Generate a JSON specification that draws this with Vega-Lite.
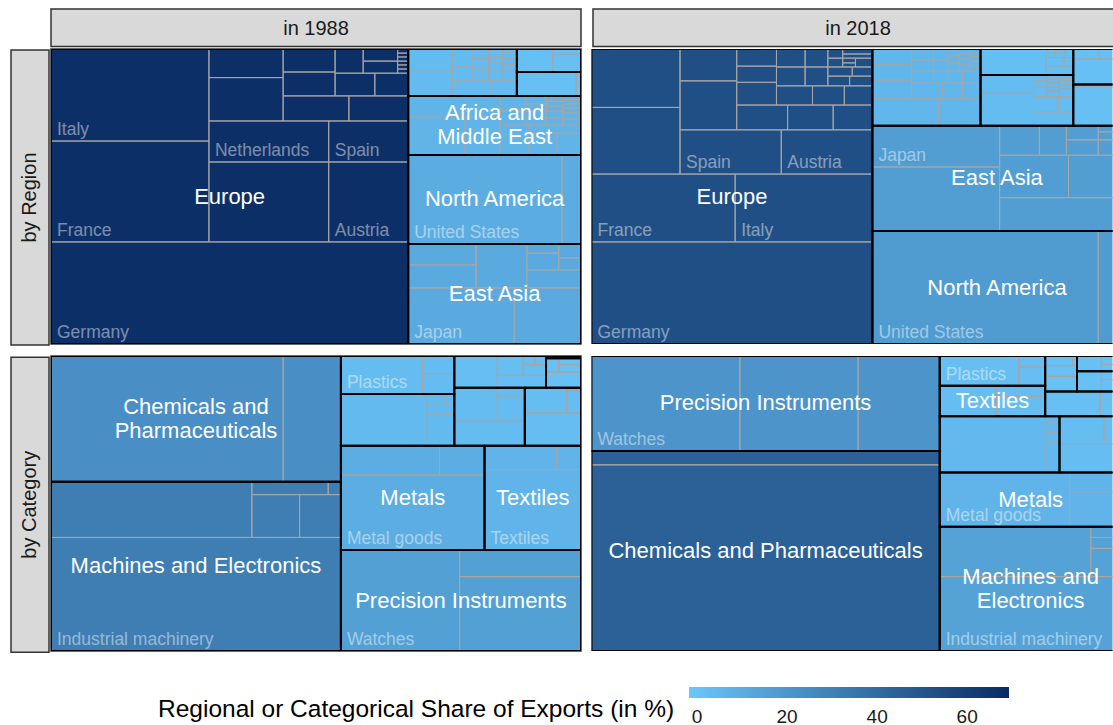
{
"$schema":"https://vega.github.io/schema/vega-lite/v6.json",
"padding":{"left":10,"top":8,"right":0,"bottom":0},
"config":{"font":"Liberation Sans","view":{"stroke":null}},
"datasets":{
"groups":[
{"p":"TL","n":"Europe","x0":0,"x1":67.4,"y0":0,"y1":100,"share":67.4,"label":"Europe"},
{"p":"TL","n":"Other region 1","x0":67.4,"x1":87.9,"y0":0,"y1":15.9,"share":3.3},
{"p":"TL","n":"Other region 2","x0":87.9,"x1":100,"y0":0,"y1":7.8,"share":0.9},
{"p":"TL","n":"Other region 3","x0":87.9,"x1":100,"y0":7.8,"y1":15.9,"share":1.0},
{"p":"TL","n":"Africa and Middle East","x0":67.4,"x1":100,"y0":15.9,"y1":35.9,"share":6.5,"label":"Africa and\nMiddle East"},
{"p":"TL","n":"North America","x0":67.4,"x1":100,"y0":35.9,"y1":66.1,"share":9.8,"label":"North America"},
{"p":"TL","n":"East Asia","x0":67.4,"x1":100,"y0":66.1,"y1":100,"share":11.0,"label":"East Asia"},
{"p":"TR","n":"Europe","x0":0,"x1":53.0,"y0":0,"y1":100,"share":53.0,"label":"Europe"},
{"p":"TR","n":"Other region 1","x0":53.0,"x1":73.4,"y0":0,"y1":26.0,"share":5.3},
{"p":"TR","n":"Other region 2","x0":73.4,"x1":90.9,"y0":0,"y1":8.8,"share":1.5},
{"p":"TR","n":"Other region 3","x0":73.4,"x1":90.9,"y0":8.8,"y1":26.0,"share":3.0},
{"p":"TR","n":"Other region 4","x0":90.9,"x1":100,"y0":0,"y1":12.0,"share":1.1},
{"p":"TR","n":"Other region 5","x0":90.9,"x1":100,"y0":12.0,"y1":26.0,"share":1.3},
{"p":"TR","n":"East Asia","x0":53.0,"x1":100,"y0":26.0,"y1":61.7,"share":16.7,"label":"East Asia"},
{"p":"TR","n":"North America","x0":53.0,"x1":100,"y0":61.7,"y1":100,"share":17.9,"label":"North America"},
{"p":"BL","n":"Chemicals and Pharmaceuticals","x0":0,"x1":54.7,"y0":0,"y1":42.6,"share":23.3,"label":"Chemicals and\nPharmaceuticals"},
{"p":"BL","n":"Machines and Electronics","x0":0,"x1":54.7,"y0":42.6,"y1":100,"share":31.4,"label":"Machines and Electronics"},
{"p":"BL","n":"Metals","x0":54.7,"x1":81.8,"y0":30.4,"y1":65.8,"share":9.6,"label":"Metals"},
{"p":"BL","n":"Textiles","x0":81.8,"x1":100,"y0":30.4,"y1":65.8,"share":6.4,"label":"Textiles"},
{"p":"BL","n":"Precision Instruments","x0":54.7,"x1":100,"y0":65.8,"y1":100,"share":15.5,"label":"Precision Instruments"},
{"p":"BL","n":"Plastics","x0":54.7,"x1":76.1,"y0":0,"y1":12.9,"share":2.8},
{"p":"BL","n":"Other category 1","x0":54.7,"x1":76.1,"y0":12.9,"y1":30.4,"share":3.8},
{"p":"BL","n":"Other category 2","x0":76.1,"x1":93.4,"y0":0,"y1":10.8,"share":1.9},
{"p":"BL","n":"Other category 3","x0":93.4,"x1":100,"y0":0,"y1":0.8,"share":0.1},
{"p":"BL","n":"Other category 4","x0":93.4,"x1":100,"y0":0.8,"y1":10.8,"share":0.7},
{"p":"BL","n":"Other category 5","x0":76.1,"x1":89.4,"y0":10.8,"y1":30.4,"share":2.6},
{"p":"BL","n":"Other category 6","x0":89.4,"x1":100,"y0":10.8,"y1":30.4,"share":2.1},
{"p":"BR","n":"Precision Instruments","x0":0,"x1":65.7,"y0":0,"y1":32.2,"share":21.1,"label":"Precision Instruments"},
{"p":"BR","n":"Chemicals and Pharmaceuticals","x0":0,"x1":65.7,"y0":32.2,"y1":100,"share":44.5,"label":"Chemicals and Pharmaceuticals"},
{"p":"BR","n":"Machines and Electronics","x0":65.7,"x1":100,"y0":57.9,"y1":100,"share":14.5,"label":"Machines and\nElectronics"},
{"p":"BR","n":"Metals","x0":65.7,"x1":100,"y0":39.5,"y1":57.9,"share":6.3,"label":"Metals"},
{"p":"BR","n":"Plastics","x0":65.7,"x1":85.6,"y0":0,"y1":10.1,"share":2.0},
{"p":"BR","n":"Textiles","x0":65.7,"x1":85.6,"y0":10.1,"y1":20.4,"share":2.1,"label":"Textiles"},
{"p":"BR","n":"Other category 1","x0":85.6,"x1":91.6,"y0":0,"y1":12.0,"share":0.7},
{"p":"BR","n":"Other category 2","x0":91.6,"x1":100,"y0":0,"y1":5.2,"share":0.4},
{"p":"BR","n":"Other category 3","x0":91.6,"x1":100,"y0":5.2,"y1":12.0,"share":0.6},
{"p":"BR","n":"Other category 4","x0":85.6,"x1":100,"y0":12.0,"y1":20.4,"share":1.2},
{"p":"BR","n":"Other category 5","x0":65.7,"x1":88.3,"y0":20.4,"y1":39.5,"share":4.3},
{"p":"BR","n":"Other category 6","x0":88.3,"x1":100,"y0":20.4,"y1":39.5,"share":2.2}
],
"subs":[
{"p":"TL","x0":0,"x1":67.4,"y0":65.4,"y1":100,"label":"Germany"},
{"p":"TL","x0":0,"x1":29.8,"y0":31.2,"y1":65.4,"label":"France"},
{"p":"TL","x0":0,"x1":29.8,"y0":0,"y1":31.2,"label":"Italy"},
{"p":"TL","x0":29.8,"x1":52.4,"y0":24.4,"y1":38.3,"label":"Netherlands"},
{"p":"TL","x0":29.8,"x1":52.4,"y0":38.3,"y1":65.4},
{"p":"TL","x0":52.4,"x1":67.4,"y0":24.4,"y1":38.3,"label":"Spain"},
{"p":"TL","x0":52.4,"x1":67.4,"y0":38.3,"y1":65.4,"label":"Austria"},
{"p":"TL","x0":29.8,"x1":43.8,"y0":0,"y1":9.7},
{"p":"TL","x0":29.8,"x1":43.8,"y0":9.7,"y1":24.4},
{"p":"TL","x0":43.8,"x1":53.6,"y0":0,"y1":7.8},
{"p":"TL","x0":53.6,"x1":58.9,"y0":0,"y1":8.2},
{"p":"TL","x0":58.9,"x1":65.4,"y0":0,"y1":4.1},
{"p":"TL","x0":58.9,"x1":65.4,"y0":4.1,"y1":8.2},
{"p":"TL","x0":65.4,"x1":67.4,"y0":0,"y1":1.4},
{"p":"TL","x0":65.4,"x1":67.4,"y0":1.4,"y1":2.7},
{"p":"TL","x0":65.4,"x1":67.4,"y0":2.7,"y1":4.1},
{"p":"TL","x0":65.4,"x1":67.4,"y0":4.1,"y1":5.4},
{"p":"TL","x0":65.4,"x1":67.4,"y0":5.4,"y1":6.8},
{"p":"TL","x0":65.4,"x1":67.4,"y0":6.8,"y1":8.2},
{"p":"TL","x0":43.8,"x1":53.6,"y0":7.8,"y1":15.9},
{"p":"TL","x0":53.6,"x1":61.1,"y0":8.2,"y1":15.9},
{"p":"TL","x0":61.1,"x1":67.4,"y0":8.2,"y1":15.9},
{"p":"TL","x0":43.8,"x1":56.2,"y0":15.9,"y1":24.4},
{"p":"TL","x0":56.2,"x1":67.4,"y0":15.9,"y1":24.4},
{"p":"TL","x0":67.4,"x1":75.7,"y0":0,"y1":7.5},
{"p":"TL","x0":67.4,"x1":75.7,"y0":7.5,"y1":15.9},
{"p":"TL","x0":75.7,"x1":82.8,"y0":10.5,"y1":15.9},
{"p":"TL","x0":82.8,"x1":87.9,"y0":10.5,"y1":15.9},
{"p":"TL","x0":75.7,"x1":79.4,"y0":0,"y1":6.1},
{"p":"TL","x0":75.7,"x1":79.4,"y0":6.1,"y1":10.5},
{"p":"TL","x0":79.4,"x1":82.6,"y0":0,"y1":3.1},
{"p":"TL","x0":79.4,"x1":82.6,"y0":3.1,"y1":6.8},
{"p":"TL","x0":79.4,"x1":82.6,"y0":6.8,"y1":10.5},
{"p":"TL","x0":82.6,"x1":85.3,"y0":0,"y1":2.4},
{"p":"TL","x0":82.6,"x1":85.3,"y0":2.4,"y1":4.7},
{"p":"TL","x0":82.6,"x1":85.3,"y0":4.7,"y1":7.5},
{"p":"TL","x0":82.6,"x1":85.3,"y0":7.5,"y1":10.5},
{"p":"TL","x0":85.3,"x1":87.9,"y0":0,"y1":1.4},
{"p":"TL","x0":85.3,"x1":87.9,"y0":1.4,"y1":3.1},
{"p":"TL","x0":85.3,"x1":87.9,"y0":3.1,"y1":5.1},
{"p":"TL","x0":85.3,"x1":87.9,"y0":5.1,"y1":7.5},
{"p":"TL","x0":85.3,"x1":87.9,"y0":7.5,"y1":10.5},
{"p":"TL","x0":87.9,"x1":94.7,"y0":0,"y1":7.8},
{"p":"TL","x0":94.7,"x1":100,"y0":0,"y1":1.7},
{"p":"TL","x0":94.7,"x1":100,"y0":1.7,"y1":7.8},
{"p":"TL","x0":87.9,"x1":99.1,"y0":7.8,"y1":15.9},
{"p":"TL","x0":99.1,"x1":100,"y0":7.8,"y1":15.9},
{"p":"TL","x0":67.4,"x1":84.7,"y0":15.9,"y1":23.1},
{"p":"TL","x0":67.4,"x1":78.1,"y0":23.1,"y1":35.9},
{"p":"TL","x0":78.1,"x1":84.7,"y0":23.1,"y1":35.9},
{"p":"TL","x0":84.7,"x1":90.2,"y0":25.8,"y1":35.9},
{"p":"TL","x0":90.2,"x1":95.5,"y0":28.5,"y1":35.9},
{"p":"TL","x0":95.5,"x1":100,"y0":28.5,"y1":35.9},
{"p":"TL","x0":90.2,"x1":100,"y0":25.8,"y1":28.5},
{"p":"TL","x0":84.7,"x1":89.6,"y0":15.9,"y1":21.0},
{"p":"TL","x0":84.7,"x1":89.6,"y0":21.0,"y1":25.8},
{"p":"TL","x0":89.6,"x1":93.4,"y0":15.9,"y1":18.6},
{"p":"TL","x0":89.6,"x1":93.4,"y0":18.6,"y1":21.0},
{"p":"TL","x0":89.6,"x1":93.4,"y0":21.0,"y1":23.4},
{"p":"TL","x0":89.6,"x1":93.4,"y0":23.4,"y1":25.8},
{"p":"TL","x0":93.4,"x1":96.6,"y0":15.9,"y1":17.6},
{"p":"TL","x0":93.4,"x1":96.6,"y0":17.6,"y1":19.3},
{"p":"TL","x0":93.4,"x1":96.6,"y0":19.3,"y1":21.0},
{"p":"TL","x0":93.4,"x1":96.6,"y0":21.0,"y1":23.4},
{"p":"TL","x0":93.4,"x1":96.6,"y0":23.4,"y1":25.8},
{"p":"TL","x0":96.6,"x1":100,"y0":15.9,"y1":17.3},
{"p":"TL","x0":96.6,"x1":100,"y0":17.3,"y1":18.6},
{"p":"TL","x0":96.6,"x1":100,"y0":18.6,"y1":20.0},
{"p":"TL","x0":96.6,"x1":100,"y0":20.0,"y1":21.7},
{"p":"TL","x0":96.6,"x1":100,"y0":21.7,"y1":23.7},
{"p":"TL","x0":96.6,"x1":100,"y0":23.7,"y1":25.8},
{"p":"TL","x0":67.4,"x1":96.4,"y0":35.9,"y1":66.1,"label":"United States"},
{"p":"TL","x0":96.4,"x1":100,"y0":35.9,"y1":66.1},
{"p":"TL","x0":67.4,"x1":87.4,"y0":81.0,"y1":100,"label":"Japan"},
{"p":"TL","x0":87.4,"x1":100,"y0":81.0,"y1":100},
{"p":"TL","x0":67.4,"x1":80.2,"y0":66.1,"y1":73.2},
{"p":"TL","x0":67.4,"x1":80.2,"y0":73.2,"y1":81.0},
{"p":"TL","x0":80.2,"x1":89.8,"y0":66.1,"y1":81.0},
{"p":"TL","x0":89.8,"x1":95.8,"y0":66.1,"y1":69.2},
{"p":"TL","x0":95.8,"x1":100,"y0":66.1,"y1":70.8},
{"p":"TL","x0":95.8,"x1":100,"y0":70.8,"y1":74.9},
{"p":"TL","x0":89.8,"x1":95.8,"y0":69.2,"y1":74.9},
{"p":"TL","x0":89.8,"x1":100,"y0":74.9,"y1":81.0},
{"p":"TR","x0":0,"x1":53,"y0":65.4,"y1":100,"label":"Germany"},
{"p":"TR","x0":0,"x1":27.1,"y0":42.4,"y1":65.4,"label":"France"},
{"p":"TR","x0":27.1,"x1":53,"y0":42.4,"y1":65.4,"label":"Italy"},
{"p":"TR","x0":16.7,"x1":35.8,"y0":27.4,"y1":42.4,"label":"Spain"},
{"p":"TR","x0":35.8,"x1":53,"y0":27.4,"y1":42.4,"label":"Austria"},
{"p":"TR","x0":0,"x1":16.7,"y0":0,"y1":19.8},
{"p":"TR","x0":0,"x1":16.7,"y0":19.8,"y1":42.4},
{"p":"TR","x0":16.7,"x1":27.4,"y0":0,"y1":10.8},
{"p":"TR","x0":16.7,"x1":27.4,"y0":10.8,"y1":27.4},
{"p":"TR","x0":27.4,"x1":34.9,"y0":0,"y1":5.8},
{"p":"TR","x0":27.4,"x1":34.9,"y0":5.8,"y1":11.3},
{"p":"TR","x0":27.4,"x1":34.9,"y0":11.3,"y1":19.0},
{"p":"TR","x0":34.9,"x1":40.3,"y0":0,"y1":6.1},
{"p":"TR","x0":34.9,"x1":40.3,"y0":6.1,"y1":12.5},
{"p":"TR","x0":40.3,"x1":44.6,"y0":0,"y1":6.1},
{"p":"TR","x0":40.3,"x1":44.6,"y0":6.1,"y1":12.5},
{"p":"TR","x0":44.6,"x1":47.4,"y0":0,"y1":3.1},
{"p":"TR","x0":44.6,"x1":47.4,"y0":3.1,"y1":6.1},
{"p":"TR","x0":47.4,"x1":53,"y0":0,"y1":1.7},
{"p":"TR","x0":47.4,"x1":53,"y0":1.7,"y1":3.1},
{"p":"TR","x0":47.4,"x1":49.8,"y0":3.1,"y1":4.7},
{"p":"TR","x0":47.4,"x1":49.8,"y0":4.7,"y1":6.1},
{"p":"TR","x0":49.8,"x1":53,"y0":3.1,"y1":6.1},
{"p":"TR","x0":44.6,"x1":49.2,"y0":6.1,"y1":9.2},
{"p":"TR","x0":49.2,"x1":53,"y0":6.1,"y1":9.2},
{"p":"TR","x0":44.6,"x1":48.7,"y0":9.2,"y1":12.5},
{"p":"TR","x0":48.7,"x1":53,"y0":9.2,"y1":12.5},
{"p":"TR","x0":34.9,"x1":41.7,"y0":12.5,"y1":19.0},
{"p":"TR","x0":41.7,"x1":47.7,"y0":12.5,"y1":19.0},
{"p":"TR","x0":47.7,"x1":53,"y0":12.5,"y1":19.0},
{"p":"TR","x0":27.4,"x1":37.0,"y0":19.0,"y1":27.4},
{"p":"TR","x0":37.0,"x1":45.6,"y0":19.0,"y1":27.4},
{"p":"TR","x0":45.6,"x1":53,"y0":19.0,"y1":27.4},
{"p":"TR","x0":53.0,"x1":60.4,"y0":0,"y1":5.1},
{"p":"TR","x0":53.0,"x1":60.4,"y0":5.1,"y1":10.5},
{"p":"TR","x0":53.0,"x1":60.4,"y0":10.5,"y1":16.9},
{"p":"TR","x0":53.0,"x1":65.5,"y0":16.9,"y1":26.0},
{"p":"TR","x0":65.5,"x1":73.4,"y0":16.9,"y1":26.0},
{"p":"TR","x0":60.4,"x1":66.2,"y0":11.6,"y1":16.9},
{"p":"TR","x0":66.2,"x1":70.0,"y0":11.6,"y1":16.9},
{"p":"TR","x0":70.0,"x1":73.4,"y0":11.6,"y1":16.9},
{"p":"TR","x0":60.4,"x1":64.5,"y0":0,"y1":3.7},
{"p":"TR","x0":60.4,"x1":64.5,"y0":3.7,"y1":7.5},
{"p":"TR","x0":60.4,"x1":64.5,"y0":7.5,"y1":11.6},
{"p":"TR","x0":64.5,"x1":67.2,"y0":0,"y1":3.7},
{"p":"TR","x0":64.5,"x1":67.2,"y0":3.7,"y1":7.5},
{"p":"TR","x0":64.5,"x1":67.2,"y0":7.5,"y1":11.6},
{"p":"TR","x0":67.2,"x1":70.0,"y0":7.5,"y1":11.6},
{"p":"TR","x0":70.0,"x1":73.4,"y0":7.5,"y1":11.6},
{"p":"TR","x0":67.2,"x1":69.4,"y0":0,"y1":2.4},
{"p":"TR","x0":67.2,"x1":69.4,"y0":2.4,"y1":4.7},
{"p":"TR","x0":67.2,"x1":69.4,"y0":4.7,"y1":7.5},
{"p":"TR","x0":69.4,"x1":71.3,"y0":0,"y1":1.7},
{"p":"TR","x0":69.4,"x1":71.3,"y0":1.7,"y1":3.4},
{"p":"TR","x0":69.4,"x1":71.3,"y0":3.4,"y1":5.4},
{"p":"TR","x0":69.4,"x1":71.3,"y0":5.4,"y1":7.5},
{"p":"TR","x0":71.3,"x1":73.4,"y0":0,"y1":1.4},
{"p":"TR","x0":71.3,"x1":73.4,"y0":1.4,"y1":2.7},
{"p":"TR","x0":71.3,"x1":73.4,"y0":2.7,"y1":4.1},
{"p":"TR","x0":71.3,"x1":73.4,"y0":4.1,"y1":5.8},
{"p":"TR","x0":71.3,"x1":73.4,"y0":5.8,"y1":7.5},
{"p":"TR","x0":73.4,"x1":85.7,"y0":0,"y1":8.8},
{"p":"TR","x0":85.7,"x1":89.2,"y0":2.9,"y1":5.7},
{"p":"TR","x0":89.2,"x1":90.9,"y0":2.9,"y1":5.7},
{"p":"TR","x0":85.7,"x1":90.9,"y0":5.7,"y1":8.8},
{"p":"TR","x0":85.7,"x1":87.5,"y0":0,"y1":1.4},
{"p":"TR","x0":85.7,"x1":87.5,"y0":1.4,"y1":2.9},
{"p":"TR","x0":87.5,"x1":89.4,"y0":0,"y1":1.4},
{"p":"TR","x0":87.5,"x1":89.4,"y0":1.4,"y1":2.9},
{"p":"TR","x0":89.4,"x1":90.9,"y0":0,"y1":2.9},
{"p":"TR","x0":73.4,"x1":83.4,"y0":8.8,"y1":15.0},
{"p":"TR","x0":73.4,"x1":83.4,"y0":15.0,"y1":26.0},
{"p":"TR","x0":83.4,"x1":90.9,"y0":21.3,"y1":26.0},
{"p":"TR","x0":83.4,"x1":88.1,"y0":16.2,"y1":21.3},
{"p":"TR","x0":88.1,"x1":90.9,"y0":16.2,"y1":21.3},
{"p":"TR","x0":83.4,"x1":86.0,"y0":8.8,"y1":10.8},
{"p":"TR","x0":83.4,"x1":86.0,"y0":10.8,"y1":12.9},
{"p":"TR","x0":83.4,"x1":86.0,"y0":12.9,"y1":16.2},
{"p":"TR","x0":86.0,"x1":88.3,"y0":8.8,"y1":10.2},
{"p":"TR","x0":86.0,"x1":88.3,"y0":10.2,"y1":11.5},
{"p":"TR","x0":86.0,"x1":88.3,"y0":11.5,"y1":12.9},
{"p":"TR","x0":86.0,"x1":88.3,"y0":12.9,"y1":14.2},
{"p":"TR","x0":86.0,"x1":88.3,"y0":14.2,"y1":16.2},
{"p":"TR","x0":88.3,"x1":90.9,"y0":8.8,"y1":9.8},
{"p":"TR","x0":88.3,"x1":90.9,"y0":9.8,"y1":10.8},
{"p":"TR","x0":88.3,"x1":90.9,"y0":10.8,"y1":12.2},
{"p":"TR","x0":88.3,"x1":90.9,"y0":12.2,"y1":13.6},
{"p":"TR","x0":88.3,"x1":90.9,"y0":13.6,"y1":16.2},
{"p":"TR","x0":90.9,"x1":95.8,"y0":0,"y1":3.4},
{"p":"TR","x0":95.8,"x1":100,"y0":0,"y1":3.4},
{"p":"TR","x0":90.9,"x1":100,"y0":3.4,"y1":12.0},
{"p":"TR","x0":90.9,"x1":100,"y0":12.0,"y1":12.9},
{"p":"TR","x0":90.9,"x1":100,"y0":12.9,"y1":26.0},
{"p":"TR","x0":53.0,"x1":77.0,"y0":26.0,"y1":40.0,"label":"Japan"},
{"p":"TR","x0":53.0,"x1":77.0,"y0":40.0,"y1":61.7},
{"p":"TR","x0":77.0,"x1":84.5,"y0":26.0,"y1":36.0},
{"p":"TR","x0":84.5,"x1":89.6,"y0":26.0,"y1":36.0},
{"p":"TR","x0":89.6,"x1":95.6,"y0":26.0,"y1":30.8},
{"p":"TR","x0":89.6,"x1":95.6,"y0":30.8,"y1":36.0},
{"p":"TR","x0":95.6,"x1":100,"y0":26.0,"y1":28.1},
{"p":"TR","x0":95.6,"x1":100,"y0":28.1,"y1":30.8},
{"p":"TR","x0":95.6,"x1":100,"y0":30.8,"y1":36.0},
{"p":"TR","x0":77.0,"x1":90.0,"y0":36.0,"y1":50.4},
{"p":"TR","x0":90.0,"x1":100,"y0":36.0,"y1":50.4},
{"p":"TR","x0":77.0,"x1":100,"y0":50.4,"y1":61.7},
{"p":"TR","x0":53.0,"x1":95.6,"y0":61.7,"y1":100,"label":"United States"},
{"p":"TR","x0":95.6,"x1":100,"y0":61.7,"y1":100},
{"p":"BL","x0":0,"x1":43.8,"y0":0,"y1":42.6},
{"p":"BL","x0":43.8,"x1":54.7,"y0":0,"y1":42.6},
{"p":"BL","x0":0,"x1":54.7,"y0":61.5,"y1":100,"label":"Industrial machinery"},
{"p":"BL","x0":0,"x1":37.9,"y0":42.6,"y1":61.5},
{"p":"BL","x0":37.9,"x1":46.9,"y0":47.0,"y1":61.5},
{"p":"BL","x0":46.9,"x1":54.7,"y0":47.0,"y1":61.5},
{"p":"BL","x0":37.9,"x1":52.3,"y0":42.6,"y1":47.0},
{"p":"BL","x0":52.3,"x1":54.7,"y0":42.6,"y1":47.0},
{"p":"BL","x0":54.7,"x1":81.8,"y0":40.3,"y1":65.8,"label":"Metal goods"},
{"p":"BL","x0":54.7,"x1":73.3,"y0":30.4,"y1":40.3},
{"p":"BL","x0":73.3,"x1":81.8,"y0":30.4,"y1":40.3},
{"p":"BL","x0":81.8,"x1":100,"y0":38.5,"y1":65.8,"label":"Textiles"},
{"p":"BL","x0":81.8,"x1":95.4,"y0":30.4,"y1":38.5},
{"p":"BL","x0":95.4,"x1":100,"y0":30.4,"y1":38.5},
{"p":"BL","x0":54.7,"x1":77.1,"y0":65.8,"y1":100,"label":"Watches"},
{"p":"BL","x0":77.1,"x1":100,"y0":65.8,"y1":74.8},
{"p":"BL","x0":77.1,"x1":100,"y0":74.8,"y1":100},
{"p":"BL","x0":54.7,"x1":70.1,"y0":0,"y1":12.9,"label":"Plastics"},
{"p":"BL","x0":70.1,"x1":76.1,"y0":0,"y1":6.0},
{"p":"BL","x0":70.1,"x1":76.1,"y0":6.0,"y1":12.9},
{"p":"BL","x0":54.7,"x1":71.0,"y0":12.9,"y1":30.4},
{"p":"BL","x0":71.0,"x1":76.1,"y0":19.7,"y1":30.4},
{"p":"BL","x0":71.0,"x1":74.5,"y0":12.9,"y1":16.7},
{"p":"BL","x0":74.5,"x1":76.1,"y0":12.9,"y1":16.7},
{"p":"BL","x0":71.0,"x1":76.1,"y0":16.7,"y1":19.7},
{"p":"BL","x0":76.1,"x1":84.2,"y0":0,"y1":10.8},
{"p":"BL","x0":84.2,"x1":93.4,"y0":6.5,"y1":10.8},
{"p":"BL","x0":84.2,"x1":89.1,"y0":0,"y1":6.5},
{"p":"BL","x0":89.1,"x1":93.4,"y0":2.9,"y1":6.5},
{"p":"BL","x0":89.1,"x1":91.3,"y0":0,"y1":2.9},
{"p":"BL","x0":91.3,"x1":93.4,"y0":0,"y1":2.9},
{"p":"BL","x0":93.4,"x1":100,"y0":5.5,"y1":10.8},
{"p":"BL","x0":93.4,"x1":95.8,"y0":0.8,"y1":5.5},
{"p":"BL","x0":95.8,"x1":100,"y0":0.8,"y1":2.9},
{"p":"BL","x0":95.8,"x1":100,"y0":2.9,"y1":5.5},
{"p":"BL","x0":76.1,"x1":89.4,"y0":22.1,"y1":30.4},
{"p":"BL","x0":76.1,"x1":84.2,"y0":10.8,"y1":22.1},
{"p":"BL","x0":84.2,"x1":89.4,"y0":10.8,"y1":13.5},
{"p":"BL","x0":84.2,"x1":89.4,"y0":13.5,"y1":22.1},
{"p":"BL","x0":89.4,"x1":100,"y0":19.3,"y1":30.4},
{"p":"BL","x0":89.4,"x1":97.3,"y0":10.8,"y1":19.3},
{"p":"BL","x0":97.3,"x1":100,"y0":10.8,"y1":11.8},
{"p":"BL","x0":97.3,"x1":100,"y0":11.8,"y1":19.3},
{"p":"BR","x0":0,"x1":28.0,"y0":0,"y1":32.2,"label":"Watches"},
{"p":"BR","x0":28.0,"x1":50.3,"y0":0,"y1":32.2},
{"p":"BR","x0":50.3,"x1":65.7,"y0":0,"y1":32.2},
{"p":"BR","x0":0,"x1":65.7,"y0":32.2,"y1":36.9},
{"p":"BR","x0":0,"x1":65.7,"y0":36.9,"y1":100},
{"p":"BR","x0":65.7,"x1":100,"y0":74.8,"y1":100,"label":"Industrial machinery"},
{"p":"BR","x0":65.7,"x1":94.2,"y0":57.9,"y1":74.8},
{"p":"BR","x0":94.2,"x1":100,"y0":57.9,"y1":61.5},
{"p":"BR","x0":94.2,"x1":100,"y0":61.5,"y1":65.2},
{"p":"BR","x0":94.2,"x1":100,"y0":65.2,"y1":74.8},
{"p":"BR","x0":65.7,"x1":90.2,"y0":39.5,"y1":57.9,"label":"Metal goods"},
{"p":"BR","x0":90.2,"x1":100,"y0":39.5,"y1":46.0},
{"p":"BR","x0":90.2,"x1":100,"y0":46.0,"y1":57.9},
{"p":"BR","x0":65.7,"x1":80.6,"y0":0,"y1":10.1,"label":"Plastics"},
{"p":"BR","x0":80.6,"x1":85.6,"y0":0,"y1":3.7},
{"p":"BR","x0":80.6,"x1":85.6,"y0":3.7,"y1":10.1},
{"p":"BR","x0":65.7,"x1":76.4,"y0":10.1,"y1":20.4},
{"p":"BR","x0":76.4,"x1":85.6,"y0":10.1,"y1":13.7},
{"p":"BR","x0":76.4,"x1":85.6,"y0":13.7,"y1":20.4},
{"p":"BR","x0":85.6,"x1":90.8,"y0":0,"y1":3.3},
{"p":"BR","x0":90.8,"x1":91.6,"y0":0,"y1":3.3},
{"p":"BR","x0":85.6,"x1":91.6,"y0":3.3,"y1":6.9},
{"p":"BR","x0":85.6,"x1":91.6,"y0":6.9,"y1":12.0},
{"p":"BR","x0":91.6,"x1":96.2,"y0":0,"y1":5.2},
{"p":"BR","x0":96.2,"x1":100,"y0":0,"y1":2.9},
{"p":"BR","x0":96.2,"x1":100,"y0":2.9,"y1":5.2},
{"p":"BR","x0":91.6,"x1":96.2,"y0":5.2,"y1":12.0},
{"p":"BR","x0":96.2,"x1":100,"y0":5.2,"y1":8.0},
{"p":"BR","x0":96.2,"x1":100,"y0":8.0,"y1":12.0},
{"p":"BR","x0":85.6,"x1":96.0,"y0":12.0,"y1":20.4},
{"p":"BR","x0":96.0,"x1":100,"y0":12.0,"y1":20.4},
{"p":"BR","x0":65.7,"x1":86.0,"y0":20.4,"y1":39.5},
{"p":"BR","x0":86.0,"x1":88.3,"y0":20.4,"y1":22.7},
{"p":"BR","x0":86.0,"x1":88.3,"y0":22.7,"y1":26.1},
{"p":"BR","x0":86.0,"x1":88.3,"y0":26.1,"y1":29.5},
{"p":"BR","x0":86.0,"x1":88.3,"y0":29.5,"y1":39.5},
{"p":"BR","x0":88.3,"x1":100,"y0":29.7,"y1":39.5},
{"p":"BR","x0":88.3,"x1":96.7,"y0":20.4,"y1":29.7},
{"p":"BR","x0":96.7,"x1":100,"y0":20.4,"y1":29.7}
]
},
"hconcat":[
{"vconcat":[
  {"width":38,"height":39.5,"data":{"values":[{"t":""}]},"mark":{"type":"text"},"encoding":{"text":{"field":"t"}}},
  {"vconcat":[
    {"width":38,"height":295,"view":{"fill":"#D9D9D9","stroke":"#333333","strokeWidth":1.5},"data":{"values":[{"t":"by Region"}]},"mark":{"type":"text","fontSize":20,"angle":270,"fill":"#1A1A1A"},"encoding":{"text":{"field":"t"}}},
    {"width":38,"height":295,"view":{"fill":"#D9D9D9","stroke":"#333333","strokeWidth":1.5},"data":{"values":[{"t":"by Category"}]},"mark":{"type":"text","fontSize":20,"angle":270,"fill":"#1A1A1A"},"encoding":{"text":{"field":"t"}}}
  ],"spacing":10.25}
],"spacing":0},
{"vconcat":[
  {"hconcat":[
    {"width":530,"height":37.5,"view":{"fill":"#D9D9D9","stroke":"#333333","strokeWidth":1.5},"data":{"values":[{"t":"in 1988"}]},"mark":{"type":"text","fontSize":20,"fill":"#1A1A1A","dy":1},"encoding":{"text":{"field":"t"}}},
    {"width":521,"height":37.5,"view":{"fill":"#D9D9D9","stroke":"#333333","strokeWidth":1.5},"data":{"values":[{"t":"in 2018"}]},"mark":{"type":"text","fontSize":20,"fill":"#1A1A1A","dx":4.5,"dy":1},"encoding":{"text":{"field":"t"}}}
  ],"spacing":10},
  {"vconcat":[
    {"hconcat":[
      {"width":530,"height":295,"view":{"stroke":"#333333","strokeWidth":1.5},
       "layer":[
        {"data":{"name":"groups"},"transform":[{"filter":"datum.p==='TL'"}],"mark":{"type":"rect","strokeWidth":0,"clip":true},
         "encoding":{"x":{"field":"x0","type":"quantitative","scale":{"domain":[0,100],"nice":false,"zero":false},"axis":null},"x2":{"field":"x1"},"y":{"field":"y0","type":"quantitative","scale":{"domain":[0,100],"nice":false,"zero":false,"reverse":true},"axis":null},"y2":{"field":"y1"},
          "color":{"field":"share","type":"quantitative","scale":{"domain":[-1.8,69.3],"range":["#6BC6FA","#0A2B63"],"interpolate":"rgb","nice":false,"zero":false},
           "legend":{"orient":"none","legendX":147,"legendY":678,"direction":"horizontal","title":"Regional or Categorical Share of Exports (in %)","titleOrient":"left","titleFontSize":24.5,"titleFontWeight":"normal","titleColor":"#000000","titlePadding":14,"titleLimit":1000,"titleAnchor":"end","titleBaseline":"top","gradientLength":320,"gradientThickness":11,"gradientStrokeWidth":0,"labelFontSize":19,"labelColor":"#1A1A1A","labelOffset":10,"values":[0,20,40,60]}}}},
        {"data":{"name":"subs"},"transform":[{"filter":"datum.p==='TL'"}],"mark":{"type":"rect","fill":"#000000","fillOpacity":0,"stroke":"#A6A6A6","strokeWidth":1,"clip":true},
         "encoding":{"x":{"field":"x0","type":"quantitative","scale":{"domain":[0,100],"nice":false,"zero":false},"axis":null},"x2":{"field":"x1"},"y":{"field":"y0","type":"quantitative","scale":{"domain":[0,100],"nice":false,"zero":false,"reverse":true},"axis":null},"y2":{"field":"y1"}}},
        {"data":{"name":"groups"},"transform":[{"filter":"datum.p==='TL'"}],"mark":{"type":"rect","fill":"#000000","fillOpacity":0,"stroke":"#000000","strokeWidth":2,"clip":true},
         "encoding":{"x":{"field":"x0","type":"quantitative","scale":{"domain":[0,100],"nice":false,"zero":false},"axis":null},"x2":{"field":"x1"},"y":{"field":"y0","type":"quantitative","scale":{"domain":[0,100],"nice":false,"zero":false,"reverse":true},"axis":null},"y2":{"field":"y1"}}},
        {"data":{"name":"subs"},"transform":[{"filter":"datum.p==='TL' && datum.label"}],"mark":{"type":"text","align":"left","baseline":"alphabetic","dx":6,"dy":-6,"fontSize":17.5,"fill":"#FFFFFF","opacity":0.45,"clip":true},
         "encoding":{"x":{"field":"x0","type":"quantitative","scale":{"domain":[0,100],"nice":false,"zero":false},"axis":null},"y":{"field":"y1","type":"quantitative","scale":{"domain":[0,100],"nice":false,"zero":false,"reverse":true},"axis":null},"text":{"field":"label"}}},
        {"data":{"name":"groups"},"transform":[{"filter":"datum.p==='TL' && datum.label && indexof(datum.label,'\\n') < 0"},{"fold":["x0","x1"],"as":["kx","xv"]},{"fold":["y0","y1"],"as":["ky","yv"]}],"mark":{"type":"text","fontSize":22,"fill":"#FFFFFF","baseline":"middle","align":"center","clip":true},
         "encoding":{"x":{"aggregate":"mean","field":"xv","type":"quantitative","scale":{"domain":[0,100],"nice":false,"zero":false},"axis":null},"y":{"aggregate":"mean","field":"yv","type":"quantitative","scale":{"domain":[0,100],"nice":false,"zero":false,"reverse":true},"axis":null},"text":{"field":"label"}}},
        {"data":{"name":"groups"},"transform":[{"filter":"datum.p==='TL' && datum.label && indexof(datum.label,'\\n') >= 0"},{"fold":["x0","x1"],"as":["kx","xv"]},{"fold":["y0","y1"],"as":["ky","yv"]}],"mark":{"type":"text","fontSize":22,"fill":"#FFFFFF","lineBreak":"\n","lineHeight":24,"baseline":"middle","align":"center","dy":-12,"clip":true},
         "encoding":{"x":{"aggregate":"mean","field":"xv","type":"quantitative","scale":{"domain":[0,100],"nice":false,"zero":false},"axis":null},"y":{"aggregate":"mean","field":"yv","type":"quantitative","scale":{"domain":[0,100],"nice":false,"zero":false,"reverse":true},"axis":null},"text":{"field":"label"}}}
       ]},
      {"width":521,"height":295,
       "layer":[
        {"data":{"name":"groups"},"transform":[{"filter":"datum.p==='TR'"}],"mark":{"type":"rect","strokeWidth":0,"clip":true},
         "encoding":{"x":{"field":"x0","type":"quantitative","scale":{"domain":[0,98.3],"nice":false,"zero":false},"axis":null},"x2":{"field":"x1"},"y":{"field":"y0","type":"quantitative","scale":{"domain":[0,100],"nice":false,"zero":false,"reverse":true},"axis":null},"y2":{"field":"y1"},
          "color":{"field":"share","type":"quantitative","scale":{"domain":[-1.8,69.3],"range":["#6BC6FA","#0A2B63"],"interpolate":"rgb","nice":false,"zero":false},
           "legend":{"orient":"none","legendX":147,"legendY":678,"direction":"horizontal","title":"Regional or Categorical Share of Exports (in %)","titleOrient":"left","titleFontSize":24.5,"titleFontWeight":"normal","titleColor":"#000000","titlePadding":14,"titleLimit":1000,"titleAnchor":"end","titleBaseline":"top","gradientLength":320,"gradientThickness":11,"gradientStrokeWidth":0,"labelFontSize":19,"labelColor":"#1A1A1A","labelOffset":10,"values":[0,20,40,60]}}}},
        {"data":{"name":"subs"},"transform":[{"filter":"datum.p==='TR'"}],"mark":{"type":"rect","fill":"#000000","fillOpacity":0,"stroke":"#A6A6A6","strokeWidth":1,"clip":true},
         "encoding":{"x":{"field":"x0","type":"quantitative","scale":{"domain":[0,98.3],"nice":false,"zero":false},"axis":null},"x2":{"field":"x1"},"y":{"field":"y0","type":"quantitative","scale":{"domain":[0,100],"nice":false,"zero":false,"reverse":true},"axis":null},"y2":{"field":"y1"}}},
        {"data":{"name":"groups"},"transform":[{"filter":"datum.p==='TR'"}],"mark":{"type":"rect","fill":"#000000","fillOpacity":0,"stroke":"#000000","strokeWidth":2,"clip":true},
         "encoding":{"x":{"field":"x0","type":"quantitative","scale":{"domain":[0,98.3],"nice":false,"zero":false},"axis":null},"x2":{"field":"x1"},"y":{"field":"y0","type":"quantitative","scale":{"domain":[0,100],"nice":false,"zero":false,"reverse":true},"axis":null},"y2":{"field":"y1"}}},
        {"data":{"name":"subs"},"transform":[{"filter":"datum.p==='TR' && datum.label"}],"mark":{"type":"text","align":"left","baseline":"alphabetic","dx":6,"dy":-6,"fontSize":17.5,"fill":"#FFFFFF","opacity":0.45,"clip":true},
         "encoding":{"x":{"field":"x0","type":"quantitative","scale":{"domain":[0,98.3],"nice":false,"zero":false},"axis":null},"y":{"field":"y1","type":"quantitative","scale":{"domain":[0,100],"nice":false,"zero":false,"reverse":true},"axis":null},"text":{"field":"label"}}},
        {"data":{"name":"groups"},"transform":[{"filter":"datum.p==='TR' && datum.label"},{"fold":["x0","x1"],"as":["kx","xv"]},{"fold":["y0","y1"],"as":["ky","yv"]}],"mark":{"type":"text","fontSize":22,"fill":"#FFFFFF","baseline":"middle","align":"center","clip":true},
         "encoding":{"x":{"aggregate":"mean","field":"xv","type":"quantitative","scale":{"domain":[0,98.3],"nice":false,"zero":false},"axis":null},"y":{"aggregate":"mean","field":"yv","type":"quantitative","scale":{"domain":[0,100],"nice":false,"zero":false,"reverse":true},"axis":null},"text":{"field":"label"}}}
       ]}
    ],"spacing":9.5},
    {"hconcat":[
      {"width":530,"height":295,"view":{"stroke":"#333333","strokeWidth":1.5},
       "layer":[
        {"data":{"name":"groups"},"transform":[{"filter":"datum.p==='BL'"}],"mark":{"type":"rect","strokeWidth":0,"clip":true},
         "encoding":{"x":{"field":"x0","type":"quantitative","scale":{"domain":[0,100],"nice":false,"zero":false},"axis":null},"x2":{"field":"x1"},"y":{"field":"y0","type":"quantitative","scale":{"domain":[0,100],"nice":false,"zero":false,"reverse":true},"axis":null},"y2":{"field":"y1"},
          "color":{"field":"share","type":"quantitative","scale":{"domain":[-1.8,69.3],"range":["#6BC6FA","#0A2B63"],"interpolate":"rgb","nice":false,"zero":false},
           "legend":{"orient":"none","legendX":147,"legendY":678,"direction":"horizontal","title":"Regional or Categorical Share of Exports (in %)","titleOrient":"left","titleFontSize":24.5,"titleFontWeight":"normal","titleColor":"#000000","titlePadding":14,"titleLimit":1000,"titleAnchor":"end","titleBaseline":"top","gradientLength":320,"gradientThickness":11,"gradientStrokeWidth":0,"labelFontSize":19,"labelColor":"#1A1A1A","labelOffset":10,"values":[0,20,40,60]}}}},
        {"data":{"name":"subs"},"transform":[{"filter":"datum.p==='BL'"}],"mark":{"type":"rect","fill":"#000000","fillOpacity":0,"stroke":"#A6A6A6","strokeWidth":1,"clip":true},
         "encoding":{"x":{"field":"x0","type":"quantitative","scale":{"domain":[0,100],"nice":false,"zero":false},"axis":null},"x2":{"field":"x1"},"y":{"field":"y0","type":"quantitative","scale":{"domain":[0,100],"nice":false,"zero":false,"reverse":true},"axis":null},"y2":{"field":"y1"}}},
        {"data":{"name":"groups"},"transform":[{"filter":"datum.p==='BL'"}],"mark":{"type":"rect","fill":"#000000","fillOpacity":0,"stroke":"#000000","strokeWidth":2,"clip":true},
         "encoding":{"x":{"field":"x0","type":"quantitative","scale":{"domain":[0,100],"nice":false,"zero":false},"axis":null},"x2":{"field":"x1"},"y":{"field":"y0","type":"quantitative","scale":{"domain":[0,100],"nice":false,"zero":false,"reverse":true},"axis":null},"y2":{"field":"y1"}}},
        {"data":{"name":"subs"},"transform":[{"filter":"datum.p==='BL' && datum.label"}],"mark":{"type":"text","align":"left","baseline":"alphabetic","dx":6,"dy":-6,"fontSize":17.5,"fill":"#FFFFFF","opacity":0.45,"clip":true},
         "encoding":{"x":{"field":"x0","type":"quantitative","scale":{"domain":[0,100],"nice":false,"zero":false},"axis":null},"y":{"field":"y1","type":"quantitative","scale":{"domain":[0,100],"nice":false,"zero":false,"reverse":true},"axis":null},"text":{"field":"label"}}},
        {"data":{"name":"groups"},"transform":[{"filter":"datum.p==='BL' && datum.label && indexof(datum.label,'\\n') < 0"},{"fold":["x0","x1"],"as":["kx","xv"]},{"fold":["y0","y1"],"as":["ky","yv"]}],"mark":{"type":"text","fontSize":22,"fill":"#FFFFFF","baseline":"middle","align":"center","clip":true},
         "encoding":{"x":{"aggregate":"mean","field":"xv","type":"quantitative","scale":{"domain":[0,100],"nice":false,"zero":false},"axis":null},"y":{"aggregate":"mean","field":"yv","type":"quantitative","scale":{"domain":[0,100],"nice":false,"zero":false,"reverse":true},"axis":null},"text":{"field":"label"}}},
        {"data":{"name":"groups"},"transform":[{"filter":"datum.p==='BL' && datum.label && indexof(datum.label,'\\n') >= 0"},{"fold":["x0","x1"],"as":["kx","xv"]},{"fold":["y0","y1"],"as":["ky","yv"]}],"mark":{"type":"text","fontSize":22,"fill":"#FFFFFF","lineBreak":"\n","lineHeight":24,"baseline":"middle","align":"center","dy":-12,"clip":true},
         "encoding":{"x":{"aggregate":"mean","field":"xv","type":"quantitative","scale":{"domain":[0,100],"nice":false,"zero":false},"axis":null},"y":{"aggregate":"mean","field":"yv","type":"quantitative","scale":{"domain":[0,100],"nice":false,"zero":false,"reverse":true},"axis":null},"text":{"field":"label"}}}
       ]},
      {"width":521,"height":295,
       "layer":[
        {"data":{"name":"groups"},"transform":[{"filter":"datum.p==='BR'"}],"mark":{"type":"rect","strokeWidth":0,"clip":true},
         "encoding":{"x":{"field":"x0","type":"quantitative","scale":{"domain":[0,98.3],"nice":false,"zero":false},"axis":null},"x2":{"field":"x1"},"y":{"field":"y0","type":"quantitative","scale":{"domain":[0,100],"nice":false,"zero":false,"reverse":true},"axis":null},"y2":{"field":"y1"},
          "color":{"field":"share","type":"quantitative","scale":{"domain":[-1.8,69.3],"range":["#6BC6FA","#0A2B63"],"interpolate":"rgb","nice":false,"zero":false},
           "legend":{"orient":"none","legendX":147,"legendY":678,"direction":"horizontal","title":"Regional or Categorical Share of Exports (in %)","titleOrient":"left","titleFontSize":24.5,"titleFontWeight":"normal","titleColor":"#000000","titlePadding":14,"titleLimit":1000,"titleAnchor":"end","titleBaseline":"top","gradientLength":320,"gradientThickness":11,"gradientStrokeWidth":0,"labelFontSize":19,"labelColor":"#1A1A1A","labelOffset":10,"values":[0,20,40,60]}}}},
        {"data":{"name":"subs"},"transform":[{"filter":"datum.p==='BR'"}],"mark":{"type":"rect","fill":"#000000","fillOpacity":0,"stroke":"#A6A6A6","strokeWidth":1,"clip":true},
         "encoding":{"x":{"field":"x0","type":"quantitative","scale":{"domain":[0,98.3],"nice":false,"zero":false},"axis":null},"x2":{"field":"x1"},"y":{"field":"y0","type":"quantitative","scale":{"domain":[0,100],"nice":false,"zero":false,"reverse":true},"axis":null},"y2":{"field":"y1"}}},
        {"data":{"name":"groups"},"transform":[{"filter":"datum.p==='BR'"}],"mark":{"type":"rect","fill":"#000000","fillOpacity":0,"stroke":"#000000","strokeWidth":2,"clip":true},
         "encoding":{"x":{"field":"x0","type":"quantitative","scale":{"domain":[0,98.3],"nice":false,"zero":false},"axis":null},"x2":{"field":"x1"},"y":{"field":"y0","type":"quantitative","scale":{"domain":[0,100],"nice":false,"zero":false,"reverse":true},"axis":null},"y2":{"field":"y1"}}},
        {"data":{"name":"subs"},"transform":[{"filter":"datum.p==='BR' && datum.label"}],"mark":{"type":"text","align":"left","baseline":"alphabetic","dx":6,"dy":-6,"fontSize":17.5,"fill":"#FFFFFF","opacity":0.45,"clip":true},
         "encoding":{"x":{"field":"x0","type":"quantitative","scale":{"domain":[0,98.3],"nice":false,"zero":false},"axis":null},"y":{"field":"y1","type":"quantitative","scale":{"domain":[0,100],"nice":false,"zero":false,"reverse":true},"axis":null},"text":{"field":"label"}}},
        {"data":{"name":"groups"},"transform":[{"filter":"datum.p==='BR' && datum.label && indexof(datum.label,'\\n') < 0"},{"fold":["x0","x1"],"as":["kx","xv"]},{"fold":["y0","y1"],"as":["ky","yv"]}],"mark":{"type":"text","fontSize":22,"fill":"#FFFFFF","baseline":"middle","align":"center","clip":true},
         "encoding":{"x":{"aggregate":"mean","field":"xv","type":"quantitative","scale":{"domain":[0,98.3],"nice":false,"zero":false},"axis":null},"y":{"aggregate":"mean","field":"yv","type":"quantitative","scale":{"domain":[0,100],"nice":false,"zero":false,"reverse":true},"axis":null},"text":{"field":"label"}}},
        {"data":{"name":"groups"},"transform":[{"filter":"datum.p==='BR' && datum.label && indexof(datum.label,'\\n') >= 0"},{"fold":["x0","x1"],"as":["kx","xv"]},{"fold":["y0","y1"],"as":["ky","yv"]}],"mark":{"type":"text","fontSize":22,"fill":"#FFFFFF","lineBreak":"\n","lineHeight":24,"baseline":"middle","align":"center","dy":-12,"clip":true},
         "encoding":{"x":{"aggregate":"mean","field":"xv","type":"quantitative","scale":{"domain":[0,98.3],"nice":false,"zero":false},"axis":null},"y":{"aggregate":"mean","field":"yv","type":"quantitative","scale":{"domain":[0,100],"nice":false,"zero":false,"reverse":true},"axis":null},"text":{"field":"label"}}}
       ]}
    ],"spacing":9.5}
  ],"spacing":10}
],"spacing":0}
],
"spacing":0
}
